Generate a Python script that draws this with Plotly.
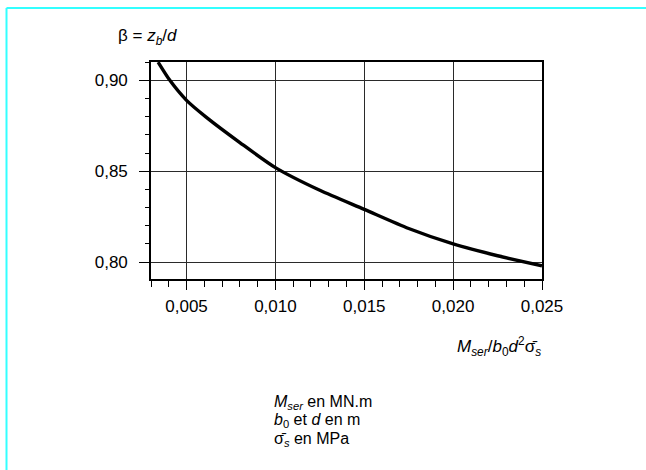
import plotly.graph_objects as go

# Values
ratio = [0.0034, 0.00406, 0.005, 0.0061, 0.008, 0.010, 0.0125, 0.015, 0.0175, 0.020, 0.0225, 0.025]
beta = [0.910, 0.900, 0.889, 0.8798, 0.8658, 0.852, 0.8395, 0.829, 0.8185, 0.810, 0.8035, 0.798]

x_ticks = [0.005, 0.010, 0.015, 0.020, 0.025]
y_ticks = [0.80, 0.85, 0.90]

notes = [
    '<i>M</i><sub><i>ser</i></sub> en MN.m',
    '<i>b</i><sub>0</sub> et <i>d</i> en m',
    'σ̄<sub><i>s</i></sub> en MPa',
]

W, H = 646, 470
L, R, T, B = 151, 542, 62, 279
FONT = "Liberation Sans, Arial, sans-serif"


def px_x(px):
    # pixel column -> paper x
    return (px - L) / (R - L)


def px_y(py):
    # pixel row -> paper y
    return (B - py) / (B - T)


fig = go.Figure()
fig.add_trace(go.Scatter(
    x=ratio,
    y=beta,
    mode='lines',
    line=dict(color='black', width=3.4, shape='spline', smoothing=0.7),
    showlegend=False,
    hoverinfo='skip'
))

axis_common = dict(
    showline=True,
    linecolor='black',
    linewidth=1.6,
    mirror=True,
    showgrid=True,
    gridcolor='#2a2a2a',
    gridwidth=1,
    zeroline=False,
    ticks='outside',
    tickcolor='black',
    tickwidth=1,
    tickfont=dict(family=FONT, size=17, color='black'),
)

fig.update_xaxes(
    range=[0.003, 0.025],
    tickvals=x_ticks,
    tickformat='.3f',
    ticklen=9,
    ticklabelstandoff=2,
    minor=dict(dtick=0.001, tick0=0, ticks='outside', ticklen=6, tickcolor='black', showgrid=False),
    **axis_common
)
fig.update_yaxes(
    range=[0.7907, 0.9101],
    tickvals=y_ticks,
    tickformat='.2f',
    ticklen=10,
    ticklabelstandoff=8,
    minor=dict(dtick=0.01, tick0=0.8, ticks='outside', ticklen=4, tickcolor='black', showgrid=False),
    **axis_common
)

annotations = [
    # y-axis title
    dict(text='β = <i>z</i><sub><i>b</i></sub>/<i>d</i>', x=px_x(116), y=px_y(37),
         xanchor='left', yanchor='middle', font=dict(family=FONT, size=17, color='black')),
    # x-axis title
    dict(text='<i>M</i><sub><i>ser</i></sub>/<i>b</i><sub>0</sub><i>d</i><sup>2</sup>σ̄<sub><i>s</i></sub>',
         x=px_x(543), y=px_y(346), xanchor='right', yanchor='middle',
         font=dict(family=FONT, size=17, color='black')),
]
# units note, one annotation per line
for i, line in enumerate(notes):
    annotations.append(dict(text=line, x=px_x(272), y=px_y(402 + 18.5 * i),
                            xanchor='left', yanchor='middle', align='left',
                            font=dict(family=FONT, size=16, color='black')))
for a in annotations:
    a.update(xref='paper', yref='paper', showarrow=False)

# cyan frame lines at top and left of the page
shapes = [
    dict(type='line', xref='paper', yref='paper', x0=px_x(6.5), x1=px_x(W + 2), y0=px_y(8), y1=px_y(8),
         line=dict(color='#33ffff', width=2)),
    dict(type='line', xref='paper', yref='paper', x0=px_x(6.5), x1=px_x(6.5), y0=px_y(8), y1=px_y(H + 2),
         line=dict(color='#33ffff', width=2)),
]

fig.update_layout(
    width=W,
    height=H,
    margin=dict(l=L, r=W - R, t=T, b=H - B),
    paper_bgcolor='white',
    plot_bgcolor='white',
    separators=', ',
    annotations=annotations,
    shapes=shapes,
    showlegend=False,
)

# page default margin would push the figure off by 8px
fig.write_html("out.html", config={'displayModeBar': False},
               post_script="document.body.style.margin='0';")
